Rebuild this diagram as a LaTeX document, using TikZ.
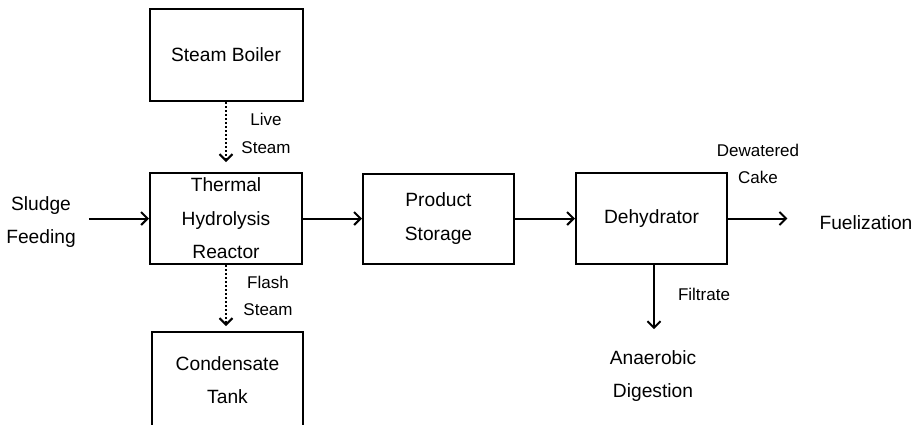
\documentclass[tikz,border=0pt]{standalone}
\usepackage{fontspec}
\setmainfont{Liberation Sans}
\usetikzlibrary{arrows.meta}
\begin{document}
\begin{tikzpicture}[x=1pt,y=-1pt,
  box/.style={draw, line width=2pt, align=center, inner sep=0pt,
    font=\fontsize{19.2}{33.5}\selectfont},
  txt/.style={align=center, inner sep=0pt, font=\fontsize{19.2}{33.5}\selectfont},
  lbl/.style={align=center, inner sep=0pt, font=\fontsize{17}{27.5}\selectfont},
  flow/.style={line width=2pt, -{Straight Barb[length=6.5pt,width=13pt,line width=2pt]}},
  steamflow/.style={flow, dash pattern=on 2pt off 2pt}]
\useasboundingbox (0,0) rectangle (916,424);
\clip (0,0) rectangle (916,424);

% process units
\node[box, minimum width=153pt, minimum height=92pt] (boiler) at (226,55) {Steam Boiler};
\node[box, minimum width=152pt, minimum height=91pt] (thr) at (226,218.5) {Thermal\\Hydrolysis\\Reactor};
\node[box, minimum width=151pt, minimum height=96pt] (tank) at (227.5,380) {Condensate\\Tank};
\node[box, minimum width=151pt, minimum height=90pt] (store) at (438.5,218.5) {Product\\Storage};
\node[box, minimum width=151pt, minimum height=91pt] (dehy) at (651.5,218.5) {Dehydrator};

% inputs and outputs
\node[txt] (feed) at (41,222) {Sludge\\Feeding};
\node[txt] (fuel) at (866,223) {Fuelization};
\node[txt] (ana) at (653,376) {Anaerobic\\Digestion};

% stream labels
\node[lbl] (live) at (266,133.5) {Live\\Steam};
\node[lbl] (flash) at (268,296) {Flash\\Steam};
\node[lbl] (cake) at (758,164) {Dewatered\\Cake};
\node[lbl] (filt) at (704,294) {Filtrate};

% main line
\draw[flow, shorten <=13pt] (feed.east |- thr.west) -- (thr.west);
\draw[flow] (thr.east) -- (store.west);
\draw[flow] (store.east) -- (dehy.west);
\draw[flow, shorten >=32pt] (dehy.east) -- (dehy.east -| fuel.west);
\draw[flow, shorten >=21pt] ([xshift=2.5pt]dehy.south) -- ([xshift=2.5pt]dehy.south |- ana.north);

% steam lines
\draw[steamflow, shorten >=10pt] (boiler.south) -- (thr.north);
\draw[steamflow, shorten >=5pt] (thr.south) -- (thr.south |- tank.north);
\end{tikzpicture}
\end{document}
